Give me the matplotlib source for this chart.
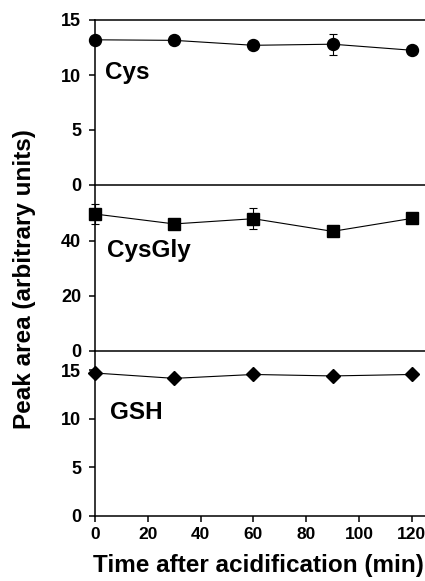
import matplotlib
matplotlib.use("Agg")
import matplotlib.pyplot as plt

plt.rcParams['font.family'] = ['Liberation Sans', 'DejaVu Sans']
plt.rcParams['font.weight'] = 'bold'

# time points (min)
time = [0, 30, 60, 90, 120]

# peak areas
cys = [13.2, 13.15, 12.7, 12.8, 12.25]
cys_err = [0, 0, 0, 0.95, 0]

cysgly = [49.7, 46.1, 48.0, 43.4, 48.1]
cysgly_err = [3.8, 0, 3.9, 0, 0]

gsh = [14.7, 14.15, 14.55, 14.4, 14.55]
gsh_err = [0, 0, 0, 0, 0]

names = ["Cys", "CysGly", "GSH"]
ylims = [15, 60, 17]
yticks = [[0, 5, 10, 15], [0, 20, 40], [0, 5, 10, 15]]
markers = ['o', 's', 'D']
msizes = [8.6, 8.4, 6.8]
label_pos = [(3.8, 9.6), (4.7, 34), (5.7, 10.0)]

fig = plt.figure(figsize=(4.25, 5.81), dpi=100)

left = 95 / 425
width = 1 - left
h = 165 / 581
bottoms = [1 - 185 / 581, 1 - 350.7 / 581, 1 - 515.7 / 581]

series = [(cys, cys_err), (cysgly, cysgly_err), (gsh, gsh_err)]

for i in range(3):
    ax = fig.add_axes([left, bottoms[i], width, h])
    y, err = series[i]
    ax.errorbar(time, y, yerr=err, color='black', marker=markers[i],
                markersize=msizes[i], linewidth=0.8, elinewidth=0.8,
                capsize=3.2, capthick=0.8, clip_on=False, zorder=3)
    ax.set_xlim(0, 125)
    ax.set_ylim(0, ylims[i])
    ax.set_yticks(yticks[i])
    ax.spines['right'].set_visible(False)
    if i > 0:
        ax.spines['top'].set_visible(False)
    for s in ax.spines.values():
        s.set_linewidth(1.1)
    ax.tick_params(axis='y', direction='out', length=4, width=1.1,
                   labelsize=13, pad=6)
    if i < 2:
        ax.tick_params(axis='x', bottom=False, labelbottom=False)
    else:
        ax.set_xticks([0, 20, 40, 60, 80, 100, 120])
        ax.tick_params(axis='x', direction='out', length=4, width=1.1,
                       labelsize=12.5, pad=4)
    for t in ax.get_yticklabels() + ax.get_xticklabels():
        t.set_fontweight('bold')
    ax.text(label_pos[i][0], label_pos[i][1], names[i], fontsize=17.5,
            fontweight='bold', ha='left', va='baseline')
    ax.patch.set_visible(False)

fig.text(25 / 425, 1 - 279 / 581, "Peak area (arbitrary units)", rotation=90,
         fontsize=17.5, fontweight='bold', ha='center', va='center')
fig.text(258 / 425, 1 - 572 / 581, "Time after acidification (min)",
         fontsize=17.5, fontweight='bold', ha='center', va='baseline')

fig.savefig("out.png", dpi=100)
